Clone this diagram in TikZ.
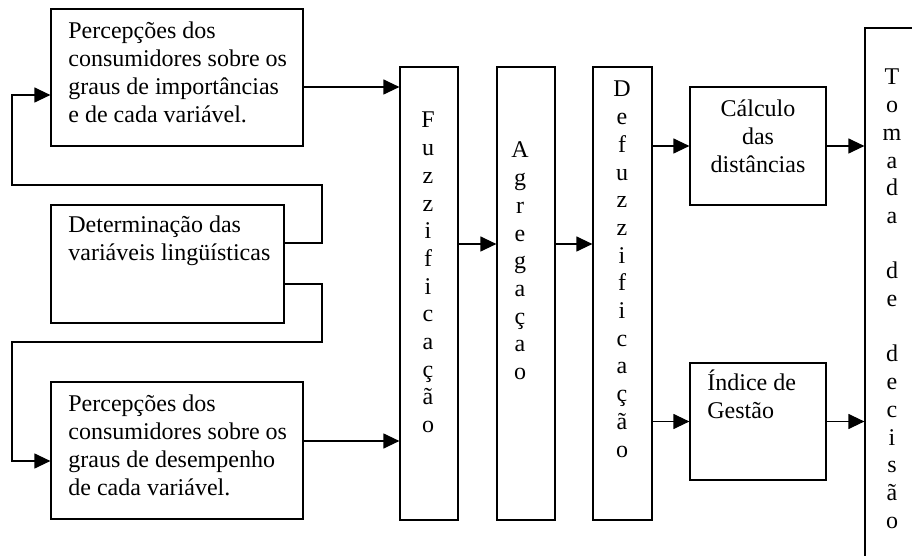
\documentclass[tikz,border=0pt]{standalone}
\usepackage{fontspec}
\setmainfont{Liberation Serif}
\usetikzlibrary{arrows.meta}
\begin{document}
\begin{tikzpicture}[x=0.5pt,y=-0.5pt,
  box/.style={draw, line width=0.6pt, rectangle, inner sep=0pt},
  txt/.style={inner sep=0pt, font=\fontsize{12}{13.85}\selectfont},
  arr/.style={line width=0.6pt, -{Triangle[length=8pt,width=7.5pt]}},
  ln/.style={line width=0.6pt}]
\useasboundingbox (0,0) rectangle (912,556);
\clip (0,0) rectangle (912,556);
% boxes
\node[box, minimum width=126pt, minimum height=68.5pt] (b1) at (177,77.5) {};
\node[box, minimum width=116.5pt, minimum height=59pt] (b2) at (167.5,264) {};
\node[box, minimum width=126pt, minimum height=68.5pt] (b3) at (177,450.5) {};
\node[box, minimum width=29pt, minimum height=226.5pt] (fuzz) at (429,293.5) {};
\node[box, minimum width=29pt, minimum height=226.5pt] (agreg) at (526,293.5) {};
\node[box, minimum width=29.5pt, minimum height=226.5pt] (defuzz) at (622.5,293.5) {};
\node[box, minimum width=68pt, minimum height=59pt] (calc) at (758,146) {};
\node[box, minimum width=68pt, minimum height=58.5pt] (indice) at (758,421.5) {};
\node[box, minimum width=27pt, minimum height=286pt] (tomada) at (892,314) {};
% texts
\node[txt, anchor=base west] (t1) at (68,39) {\parbox[t]{150pt}{\raggedright Percepções dos\\consumidores sobre os\\graus de importâncias\\e de cada variável.}};
\node[txt, anchor=base west] (t2) at (68,233) {\parbox[t]{150pt}{\raggedright Determinação das\\variáveis lingüísticas}};
\node[txt, anchor=base west] (t3) at (68,412) {\parbox[t]{150pt}{\raggedright Percepções dos\\consumidores sobre os\\graus de desempenho\\de cada variável.}};
\node[txt, anchor=base] (tf) at (428,128) {\parbox[t]{20pt}{\centering F\\u\\z\\z\\i\\f\\i\\c\\a\\ç\\ã\\o}};
\node[txt, anchor=base] (ta) at (520,158) {\parbox[t]{20pt}{\centering A\\g\\r\\e\\g\\a\\ç\\a\\o}};
\node[txt, anchor=base] (td) at (622,97) {\parbox[t]{20pt}{\centering D\\e\\f\\u\\z\\z\\i\\f\\i\\c\\a\\ç\\ã\\o}};
\node[txt, anchor=base] (tc) at (758,117) {\parbox[t]{80pt}{\centering Cálculo\\das\\distâncias}};
\node[txt, anchor=base west] (ti) at (707,391) {\parbox[t]{80pt}{\raggedright Índice de\\Gestão}};
\node[txt, anchor=base] (tt) at (892,85) {\parbox[t]{20pt}{\centering T\\o\\m\\a\\d\\a\\\mbox{}\\d\\e\\\mbox{}\\d\\e\\c\\i\\s\\ã\\o}};
% connectors
\draw[arr] (b2.east |- 0,243) -| (322,185) -| (12,95) -- (b1.west |- 0,95);
\draw[arr] (b2.east |- 0,284) -| (322,342) -| (12,461) -- (b3.west |- 0,461);
\draw[arr] (b1.east |- 0,87) -- (fuzz.west |- 0,87);
\draw[arr] (b3.east |- 0,441) -- (fuzz.west |- 0,441);
\draw[arr] (fuzz.east |- 0,244) -- (agreg.west |- 0,244);
\draw[arr] (agreg.east |- 0,244) -- (defuzz.west |- 0,244);
\draw[arr] (defuzz.east |- calc.west) -- (calc.west);
\draw[arr] (calc.east) -- (calc.east -| tomada.west);
\draw[arr] (defuzz.east |- indice.west) -- (indice.west);
\draw[arr] (indice.east) -- (indice.east -| tomada.west);
\end{tikzpicture}
\end{document}
